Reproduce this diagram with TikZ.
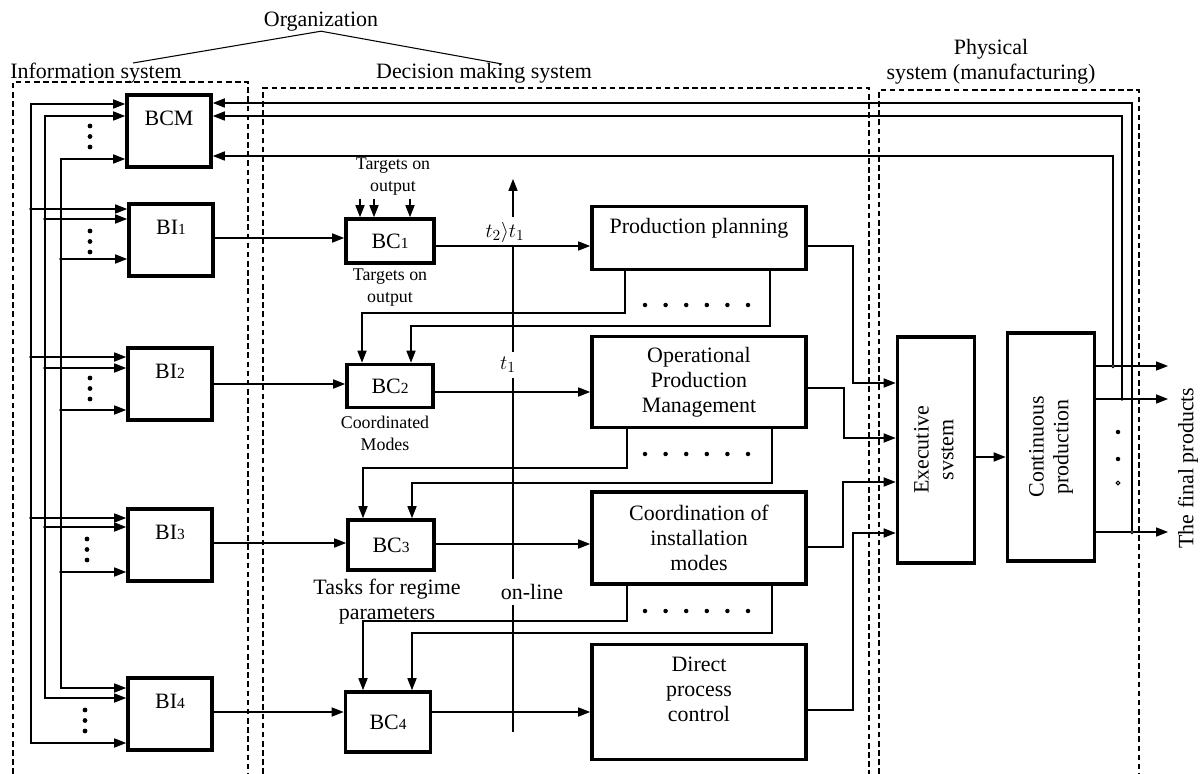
\documentclass[tikz,border=0pt]{standalone}
\usepackage{fontspec}
\usepackage{graphicx}
\setmainfont{Liberation Serif}
\usetikzlibrary{arrows.meta,calc}
\newcommand{\diagfont}{\fontsize{15.6}{17.7}\selectfont}
\newcommand{\notefont}{\fontsize{12.7}{15.6}\selectfont}
\newcommand{\blockidx}[1]{{\fontsize{11}{11}\selectfont #1}}

\begin{document}
\begin{tikzpicture}[x=0.025cm, y=-0.025cm, line width=0.75pt,
    >={Triangle[length=8.5pt,width=6.5pt]},
    every node/.style={font=\diagfont},
    block/.style={draw, line width=2.6pt, inner sep=0pt, align=center},
    zone/.style={dash pattern=on 4pt off 2.5pt},
    note/.style={font=\notefont, align=center, inner sep=1pt}]
    \useasboundingbox (0,0) rectangle (1201,774);

    % Dashed zones (open at the bottom)
    \draw[zone] (13,774) |- (248,82) -- (248,774);
    \draw[zone] (263,774) |- (869,88) -- (869,774);
    \draw[zone] (879,774) |- (1139,90) -- (1139,774);

    % Zone titles
    \node[anchor=base] (org) at (321,27) {Organization};
    \node[anchor=base] (infolbl) at (96,79) {Information system};
    \node[anchor=base] (declbl) at (484,79) {Decision making system};
    \node[align=center] (physlbl) at (991,62) {Physical\\system (manufacturing)};
    \draw ([yshift=-3pt]org.base) -- (133,63);
    \draw ([yshift=-3pt]org.base) -- (502,64);

    % Information blocks
    \node[block, minimum width=2.1cm, minimum height=1.8cm] (bcm) at (169,131) {BCM\\\mbox{}};
    \node[block, minimum width=2.1cm, minimum height=1.8cm] (bi1) at (171,240) {BI\blockidx{1}\\\mbox{}};
    \node[block, minimum width=2.1cm, minimum height=1.8cm] (bi2) at (170,384) {BI\blockidx{2}\\\mbox{}};
    \node[block, minimum width=2.1cm, minimum height=1.8cm] (bi3) at (170,545) {BI\blockidx{3}\\\mbox{}};
    \node[block, minimum width=2.1cm, minimum height=1.8cm] (bi4) at (170,714) {BI\blockidx{4}\\\mbox{}};

    % Coordination blocks
    \node[block, minimum width=2.2cm, minimum height=1.1cm] (bc1) at (390,241) {BC\blockidx{1}};
    \node[block, minimum width=2.15cm, minimum height=1.075cm] (bc2) at (390,386) {BC\blockidx{2}};
    \node[block, minimum width=2.15cm, minimum height=1.25cm] (bc3) at (391,545) {BC\blockidx{3}};
    \node[block, minimum width=2.125cm, minimum height=1.5cm] (bc4) at (388,722) {BC\blockidx{4}};

    % Management levels
    \node[block, minimum width=5.35cm, minimum height=1.575cm] (pp) at (699,238) {Production planning\\\mbox{}};
    \node[block, minimum width=5.35cm, minimum height=2.275cm] (opm) at (699,382) {Operational\\Production\\Management};
    \node[block, minimum width=5.35cm, minimum height=2.3cm] (coord) at (699,538) {Coordination of\\installation\\modes};
    \node[block, minimum width=5.35cm, minimum height=2.875cm] (dpc) at (699,702) {Direct\\process\\control\\\mbox{}};

    % Physical system
    \node[block, minimum width=1.925cm, minimum height=5.65cm] (exec) at (936,450)
        {\rotatebox{90}{\begin{tabular}{c}Executive\\svstem\end{tabular}}};
    \node[block, minimum width=2.175cm, minimum height=5.7cm] (cont) at (1051,447)
        {\rotatebox{90}{\begin{tabular}{c}Continuous\\production\end{tabular}}};
    \node[rotate=90] (final) at (1188,468) {The final products};

    % Notes
    \node[note] (tgt1) at (393,177) {Targets on\\output};
    \node[note] (tgt2) at (390,288) {Targets on\\output};
    \node[note] (modes) at (385,433) {Coordinated\\Modes};
    \node[align=center] (tasks) at (387,602) {Tasks for regime\\parameters};

    % Left bus lines
    \draw[<->] (bcm.west |- 0,104) -| (31,743) -- (bi4.west |- 0,743);
    \draw[<->] (bcm.west |- 0,116) -| (45,698) -- (bi4.west |- 0,698);
    \draw[<->] (bcm.west |- 0,159) -| (61,688) -- (bi4.west |- 0,688);
    \foreach \n/\ya/\yb/\yc in {bi1/209/219/259, bi2/357/368/410, bi3/518/527/572} {
        \draw[->] (31,\ya) -- (\n.west |- 0,\ya);
        \draw[->] (45,\yb) -- (\n.west |- 0,\yb);
        \draw[->] (61,\yc) -- (\n.west |- 0,\yc);
        \fill (31,\ya) circle (1.3pt) (45,\yb) circle (1.3pt) (61,\yc) circle (1.3pt);
    }
    \foreach \x/\y in {90/126, 90/231, 90/378, 87/539, 85/710}
        \foreach \k in {0,1,2} \fill (\x,\y+10.5*\k) circle (1.7pt);

    % BI -> BC -> levels
    \draw[->] (bi1.east |- 0,238) -- (bc1.west |- 0,238);
    \draw[->] (bi2.east |- 0,384) -- (bc2.west |- 0,384);
    \draw[->] (bi3.east |- 0,543) -- (bc3.west |- 0,543);
    \draw[->] (bi4.east |- 0,712) -- (bc4.west |- 0,712);
    \draw[->] (bc1.east |- 0,246) -- (pp.west |- 0,246);
    \draw[->] (bc2.east |- 0,392) -- (opm.west |- 0,392);
    \draw[->] (bc3.east |- 0,544) -- (coord.west |- 0,544);
    \draw[->] (bc4.east |- 0,712) -- (dpc.west |- 0,712);
    \foreach \x in {360,374,410} \draw[->] (\x,199) -- (bc1.north -| \x,0);

    % Feedback from upper levels
    \draw[->] (pp.south -| 625,0) |- (362,313) -- (bc2.north -| 362,0);
    \draw[->] (pp.south -| 770,0) |- (411,326) -- (bc2.north -| 411,0);
    \draw[->] (opm.south -| 627,0) |- (363,468) -- (bc3.north -| 363,0);
    \draw[->] (opm.south -| 772,0) |- (412,483) -- (bc3.north -| 412,0);
    \draw[->] (coord.south -| 627,0) |- (363,621) -- (bc4.north -| 363,0);
    \draw[->] (coord.south -| 772,0) |- (412,633) -- (bc4.north -| 412,0);
    \foreach \y in {305,454,611}
        \foreach \k in {0,...,5} \fill (645+20.6*\k,\y) circle (1.6pt);

    % Time axis
    \coordinate (vx) at (513,0);
    \node (t21) at (505,232) {$t_{2}\rangle t_{1}$};
    \node (t1) at (508,365) {$t_{1}$};
    \node (online) at (532,592) {on-line};
    \draw[->] (t21.north -| vx) -- (513,179);
    \draw (t21.south -| vx) -- (t1.north -| vx);
    \draw (t1.south -| vx) -- (online.north -| vx);
    \draw (online.south -| vx) -- (513,732);

    % Levels -> executive system
    \draw[->] (pp.east |- 0,246) -| (853,383) -- (exec.west |- 0,383);
    \draw[->] (opm.east |- 0,388) -| (844,438) -- (exec.west |- 0,438);
    \draw[->] (coord.east |- 0,547) -| (843,482) -- (exec.west |- 0,482);
    \draw[->] (dpc.east |- 0,710) -| (853,533) -- (exec.west |- 0,533);
    \draw[->] (exec.east |- 0,457) -- (cont.west |- 0,457);

    % Products and feedback to BCM
    \coordinate (out1) at (1168,366);
    \coordinate (out2) at (1168,399);
    \coordinate (out3) at (1168,532);
    \draw[->] (cont.east |- out1) -- (out1);
    \draw[->] (cont.east |- out2) -- (out2);
    \draw[->] (cont.east |- out3) -- (out3);
    \draw[->] (1113,366) |- (bcm.east |- 0,156);
    \draw[->] (1122,399) |- (bcm.east |- 0,116);
    \draw[->] (1132,532) |- (bcm.east |- 0,103);
    \draw[fill=white] (1113,366) circle (1.2pt);
    \fill (1122,399) circle (1.3pt);
    \draw[fill=white] (1132,532) circle (1.2pt);
    \fill (1118,432) circle (1.6pt) (1118,459) circle (1.6pt);
    \draw (1118,483) circle (1.3pt);
\end{tikzpicture}
\end{document}
